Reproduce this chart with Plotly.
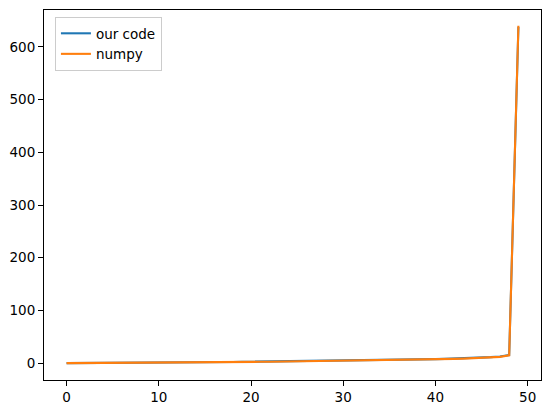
import plotly.graph_objects as go

x_index = list(range(50))
numpy_vals = [0.05, 0.1, 0.2, 0.3, 0.4, 0.5, 0.6, 0.7, 0.8, 0.9,
              1.0, 1.1, 1.2, 1.4, 1.5, 1.7, 1.8, 2.0, 2.1, 2.3,
              2.5, 2.6, 2.8, 3.0, 3.2, 3.4, 3.6, 3.8, 4.0, 4.2,
              4.5, 4.7, 5.0, 5.2, 5.5, 5.8, 6.1, 6.4, 6.7, 7.0,
              7.4, 7.8, 8.2, 8.7, 9.3, 10.0, 10.9, 12.0, 15.0, 640.0]
our_code_vals = [0.05, 0.1, 0.2, 0.3, 0.4, 0.5, 0.6, 0.7, 0.8, 0.9,
                 1.0, 1.1, 1.3, 1.5, 1.7, 1.9, 2.0, 2.2, 2.4, 2.6,
                 2.8, 3.0, 3.2, 3.4, 3.6, 3.7, 3.8, 4.0, 4.2, 4.4,
                 4.7, 5.0, 5.3, 5.6, 5.9, 6.2, 6.5, 6.8, 7.0, 7.3,
                 7.7, 8.1, 8.6, 9.2, 9.9, 10.6, 11.5, 12.6, 15.5, 638.0]

fig = go.Figure()
fig.add_trace(go.Scatter(x=x_index, y=our_code_vals, mode="lines", name="our code",
                         line=dict(color="#1f77b4", width=2.08)))
fig.add_trace(go.Scatter(x=x_index, y=numpy_vals, mode="lines", name="numpy",
                         line=dict(color="#ff7f0e", width=2.08)))

axis_common = dict(showline=True, linecolor="black", linewidth=1.1, mirror=True,
                   ticks="outside", ticklen=5, tickwidth=1.1, tickcolor="black",
                   showgrid=False, zeroline=False,
                   tickfont=dict(family="DejaVu Sans", size=13.5, color="black"))

fig.update_layout(
    width=544, height=405,
    margin=dict(l=36, r=11, t=2, b=33),
    paper_bgcolor="white", plot_bgcolor="white",
    xaxis=dict(range=[-2.45, 51.45], tick0=0, dtick=10, **axis_common),
    yaxis=dict(range=[-31.9, 670], tick0=0, dtick=100, **axis_common),
    legend=dict(x=0.022, y=0.981, xanchor="left", yanchor="top",
                bgcolor="rgba(255,255,255,0.8)", bordercolor="#cccccc", borderwidth=1,
                font=dict(family="DejaVu Sans", size=13.5, color="black"),
                tracegroupgap=0, itemwidth=30),
    showlegend=True,
)

fig.write_html("out.html")
